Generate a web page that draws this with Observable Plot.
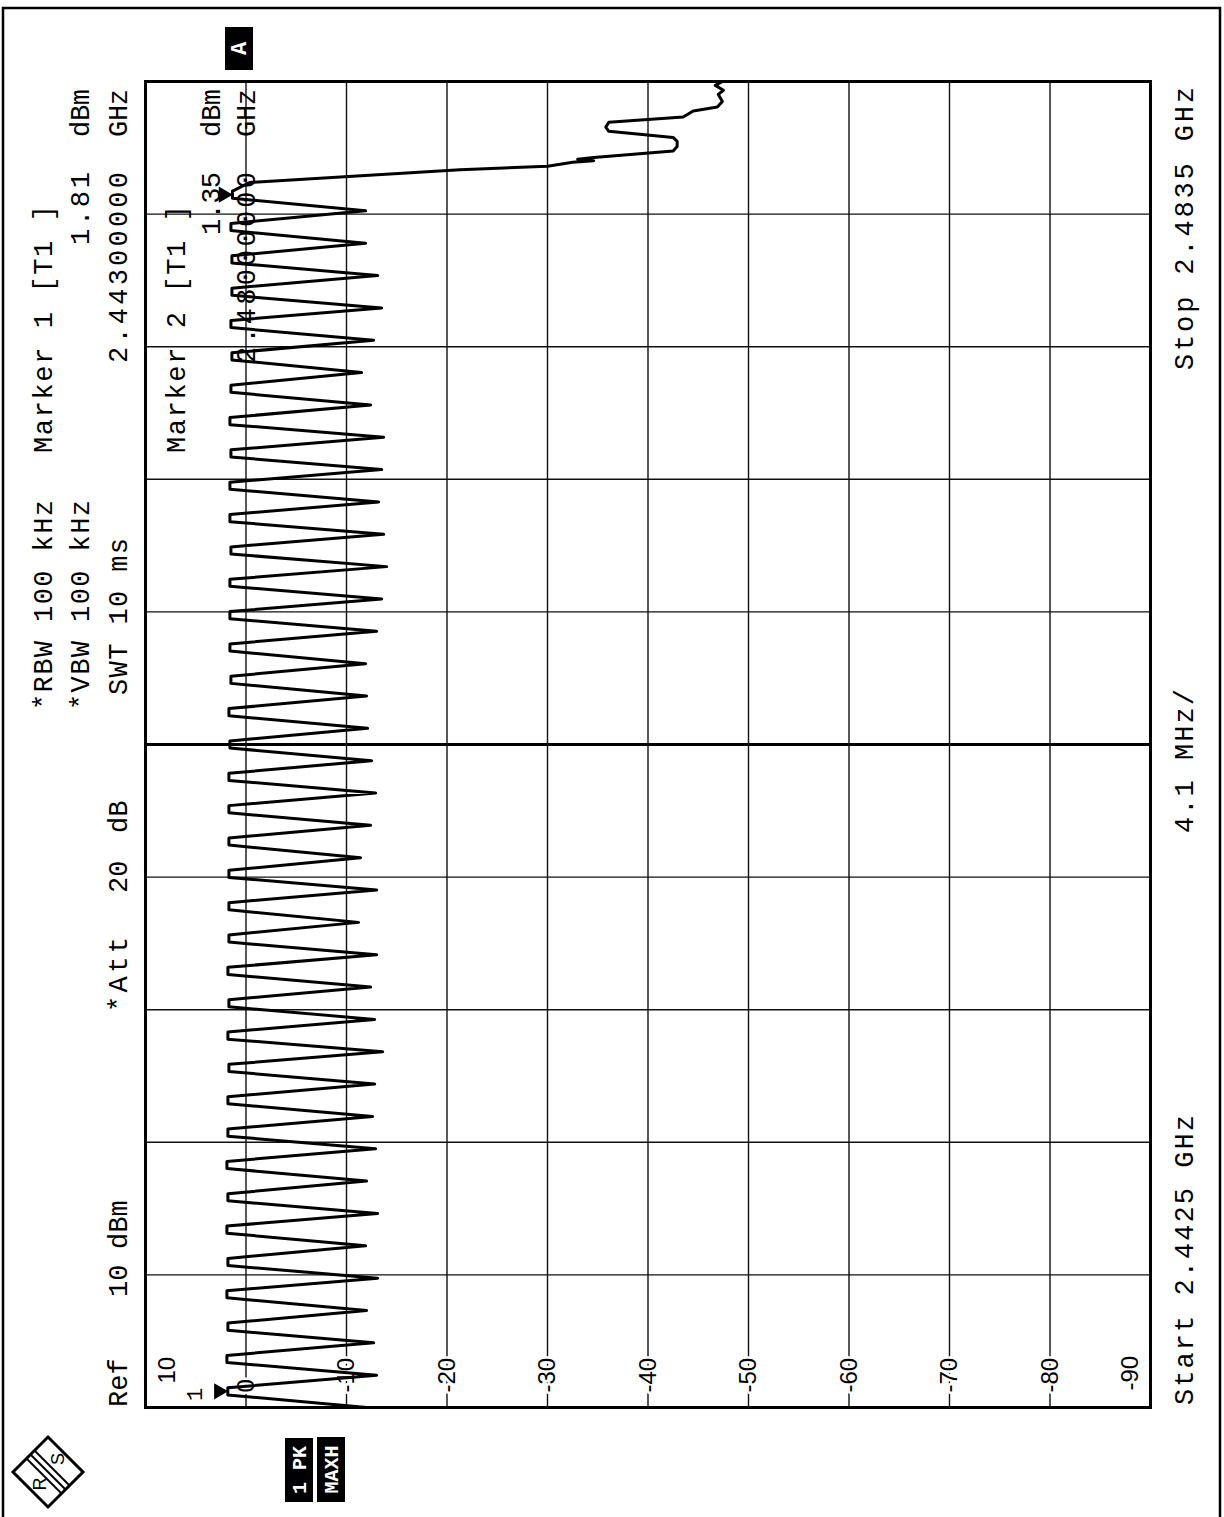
<!DOCTYPE html>
<html>
<head>
<meta charset="utf-8">
<script src="https://cdn.jsdelivr.net/npm/d3@7"></script>
<script src="https://cdn.jsdelivr.net/npm/@observablehq/plot@0.6"></script>
<style>
html,body{margin:0;padding:0;background:#fff;width:1224px;height:1517px;overflow:hidden}
#page{position:absolute;left:0;top:0;width:1517px;height:1224px;transform-origin:0 0;transform:translate(0px,1517px) rotate(-90deg);background:#fff}
</style>
</head>
<body>
<div id="page"></div>
<script>
// ---------------- data ----------------
const startMHz = 2442.5;
const stopMHz = 2483.5;
const freqGridMHz = [2446.6, 2450.7, 2454.8, 2458.9, 2467.1, 2471.2, 2475.3, 2479.4];
const centerMHz = [2463.0];
const levelGridDbm = [0, -10, -20, -30, -40, -50, -60, -70, -80];
const levelTickDbm = [0, -10, -20, -30, -40, -50, -60, -70, -80];
const levelTickText = ["0", "-10", "-20", "-30", "-40", "-50", "-60", "-70", "-80"];
const topTick = {v: 10, t: "10"};
const bottomTick = {v: -90, t: "-90"};

// hopping channels (1 MHz raster), peak levels
const channelMHz = [2443, 2444, 2445, 2446, 2447, 2448, 2449, 2450, 2451, 2452,
  2453, 2454, 2455, 2456, 2457, 2458, 2459, 2460, 2461, 2462,
  2463, 2464, 2465, 2466, 2467, 2468, 2469, 2470, 2471, 2472,
  2473, 2474, 2475, 2476, 2477, 2478, 2479, 2480];
const peakDbm = [1.81, 1.9, 1.8, 1.9, 1.8, 1.9, 1.8, 1.9, 1.8, 1.8,
  1.7, 1.8, 1.7, 1.8, 1.7, 1.7, 1.7, 1.7, 1.7, 1.7,
  1.6, 1.7, 1.5, 1.6, 1.6, 1.6, 1.5, 1.6, 1.6, 1.5,
  1.6, 1.5, 1.4, 1.5, 1.4, 1.4, 1.5, 1.35];
// notches between channels
const dipMHz = [2442.5, 2443.5, 2444.5, 2445.5, 2446.5, 2447.5, 2448.5, 2449.5, 2450.5, 2451.5,
  2452.5, 2453.5, 2454.5, 2455.5, 2456.5, 2457.5, 2458.5, 2459.5, 2460.5, 2461.5,
  2462.5, 2463.5, 2464.5, 2465.5, 2466.5, 2467.5, 2468.5, 2469.5, 2470.5, 2471.5,
  2472.5, 2473.5, 2474.5, 2475.5, 2476.5, 2477.5, 2478.5, 2479.5];
const dipDbm = [-12.0, -13.0, -12.7, -12.0, -13.1, -11.9, -13.1, -12.0, -12.9, -12.6,
  -12.8, -13.6, -12.8, -12.4, -13.0, -11.2, -13.0, -11.4, -12.4, -12.9,
  -12.5, -12.1, -12.0, -11.9, -13.0, -13.5, -14.0, -13.7, -13.2, -13.5,
  -13.7, -12.4, -11.5, -12.7, -13.5, -13.1, -11.9, -11.9];
// band edge roll-off above the last channel
const tailMHz = [2480.38, 2480.77, 2480.88, 2481.0, 2481.05, 2481.1, 2481.15, 2481.35, 2481.49, 2481.65,
  2481.77, 2481.96, 2482.09, 2482.24, 2482.40, 2482.59, 2482.71, 2482.88, 2483.10, 2483.23, 2483.38, 2483.5];
const tailDbm = [-0.4, -21.3, -30.0, -32.5, -34.6, -33.0, -34.6, -42.5, -42.9, -42.9,
  -42.5, -36.1, -35.8, -36.1, -43.5, -44.5, -46.9, -47.4, -47.0, -47.5, -46.7, -47.4];
const markerMHz = [2443, 2480];
const markerDbm = [1.81, 1.35];
const markerName = ["1", "2"];

// ---------------- build ----------------
const topHalfMHz = 0.11; // flat top of each channel
const trace = [];
channelMHz.forEach((f, i) => {
  trace.push({f: dipMHz[i], L: dipDbm[i]});
  trace.push({f: f - topHalfMHz, L: peakDbm[i]});
  trace.push({f: f + topHalfMHz, L: peakDbm[i]});
});
tailMHz.forEach((f, i) => trace.push({f, L: tailDbm[i]}));
const markers = markerMHz.map((f, i) => ({f, L: markerDbm[i], n: markerName[i]}));
const ticks = levelTickDbm.map((v, i) => ({v, t: levelTickText[i]}));

const mono = "'Liberation Mono','Courier New',monospace";
const sans = "'Liberation Sans',Arial,sans-serif";

const plot = Plot.plot({
  width: 1517, height: 1224,
  marginLeft: 109, marginRight: 82, marginTop: 145, marginBottom: 74,
  x: {domain: [startMHz, stopMHz], axis: null},
  y: {domain: [-90, 10], axis: null},
  style: {background: "white", overflow: "visible"},
  marks: [
    Plot.ruleX(freqGridMHz, {stroke: "#111", strokeWidth: 1.4}),
    Plot.ruleX(centerMHz, {stroke: "#000", strokeWidth: 3}),
    Plot.ruleY(levelGridDbm, {stroke: "#111", strokeWidth: 1.4}),
    Plot.text(ticks, {frameAnchor: "left", y: "v", text: "t", dx: 15, textAnchor: "start", fontFamily: sans, fontSize: 24, fill: "#000", stroke: "white", strokeWidth: 5}),
    Plot.text([topTick], {frameAnchor: "left", y: "v", text: "t", dx: 24, dy: 22, textAnchor: "start", fontFamily: sans, fontSize: 24, fill: "#000"}),
    Plot.text([bottomTick], {frameAnchor: "left", y: "v", text: "t", dx: 17, dy: -20, textAnchor: "start", fontFamily: sans, fontSize: 24, fill: "#000"}),
    Plot.line(trace, {x: "f", y: "L", stroke: "#000", strokeWidth: 3, strokeLinejoin: "round"}),
    Plot.dot(markers, {x: "f", y: "L", symbol: "triangle", rotate: 180, r: 6, fill: "#000", stroke: "none", dy: -9}),
    Plot.text(markers.slice(0, 1), {x: "f", y: "L", text: "n", dx: -3, dy: -33, fontFamily: mono, fontSize: 22, fill: "#000"}),
    Plot.frame({stroke: "#000", strokeWidth: 3})
  ]
});
document.getElementById("page").appendChild(plot);

// ---------------- instrument annotations ----------------
const svg = d3.select(plot);
const ann = svg.append("g").attr("font-family", mono).attr("font-size", 27).attr("fill", "#000");
function t(str, u0, u1, v) {
  const el = ann.append("text").attr("x", u0).attr("y", v).attr("dominant-baseline", "central")
    .attr("text-anchor", "start").text(str);
  if (u1 != null) el.attr("textLength", u1 - u0).attr("lengthAdjust", "spacing");
}
t("*RBW 100 kHz", 807, 1017, 45);
t("*VBW 100 kHz", 807, 1017, 82);
t("SWT 10 ms", 822, 979, 120);
t("Ref", 110, null, 120); t("10", 220, null, 120); t("dBm", 268, null, 120);
t("*Att", 505, 580, 120); t("20", 624, null, 120); t("dB", 684, null, 120);
t("Marker 1 [T1 ]", 1064, 1312, 45);
t("1.81", 1272, 1345, 82); t("dBm", 1380, 1428, 82);
t("2.44300000", 1154, 1345, 120); t("GHz", 1380, 1428, 120);
t("Marker 2 [T1 ]", 1064, 1312, 178);
t("1.35", 1282, 1345, 213); t("dBm", 1380, 1428, 213);
t("2.48000000", 1154, 1345, 248); t("GHz", 1380, 1428, 248);
t("Start 2.4425 GHz", 112, 402, 1186);
t("4.1 MHz/", 684, 828, 1186);
t("Stop 2.4835 GHz", 1147, 1430, 1186);

// side boxes
const box = (x, y, w, h, s, fs) => {
  svg.append("rect").attr("x", x).attr("y", y).attr("width", w).attr("height", h).attr("fill", "#000");
  svg.append("text").attr("x", x + w / 2).attr("y", y + h / 2 + 1).attr("text-anchor", "middle")
    .attr("dominant-baseline", "central").attr("font-family", mono).attr("font-weight", "bold")
    .attr("font-size", fs).attr("fill", "#fff").text(s);
};
box(1447, 225, 43, 28, "A", 22);
box(15, 285, 64, 28, "1 PK", 20);
box(15, 317, 65, 28, "MAXH", 20);

// R&S logo
const logo = svg.append("g");
logo.append("polygon").attr("points", "45,13 80,48 45,83 10,48").attr("fill", "none").attr("stroke", "#000").attr("stroke-width", 3);
[-4, 0, 4].forEach(o => {
  logo.append("line").attr("x1", 27.5 + o).attr("y1", 65.5 + o).attr("x2", 62.5 + o).attr("y2", 30.5 + o)
    .attr("stroke", "#000").attr("stroke-width", 2);
});
logo.append("text").attr("x", 33).attr("y", 40).attr("text-anchor", "middle").attr("dominant-baseline", "central")
  .attr("font-family", sans).attr("font-size", 18).text("R");
logo.append("text").attr("x", 58).attr("y", 58).attr("text-anchor", "middle").attr("dominant-baseline", "central")
  .attr("font-family", sans).attr("font-size", 18).text("S");

// outer sheet border
svg.append("rect").attr("x", -5).attr("y", 3).attr("width", 1514).attr("height", 1217)
  .attr("fill", "none").attr("stroke", "#000").attr("stroke-width", 2.5);
</script>
</body>
</html>
